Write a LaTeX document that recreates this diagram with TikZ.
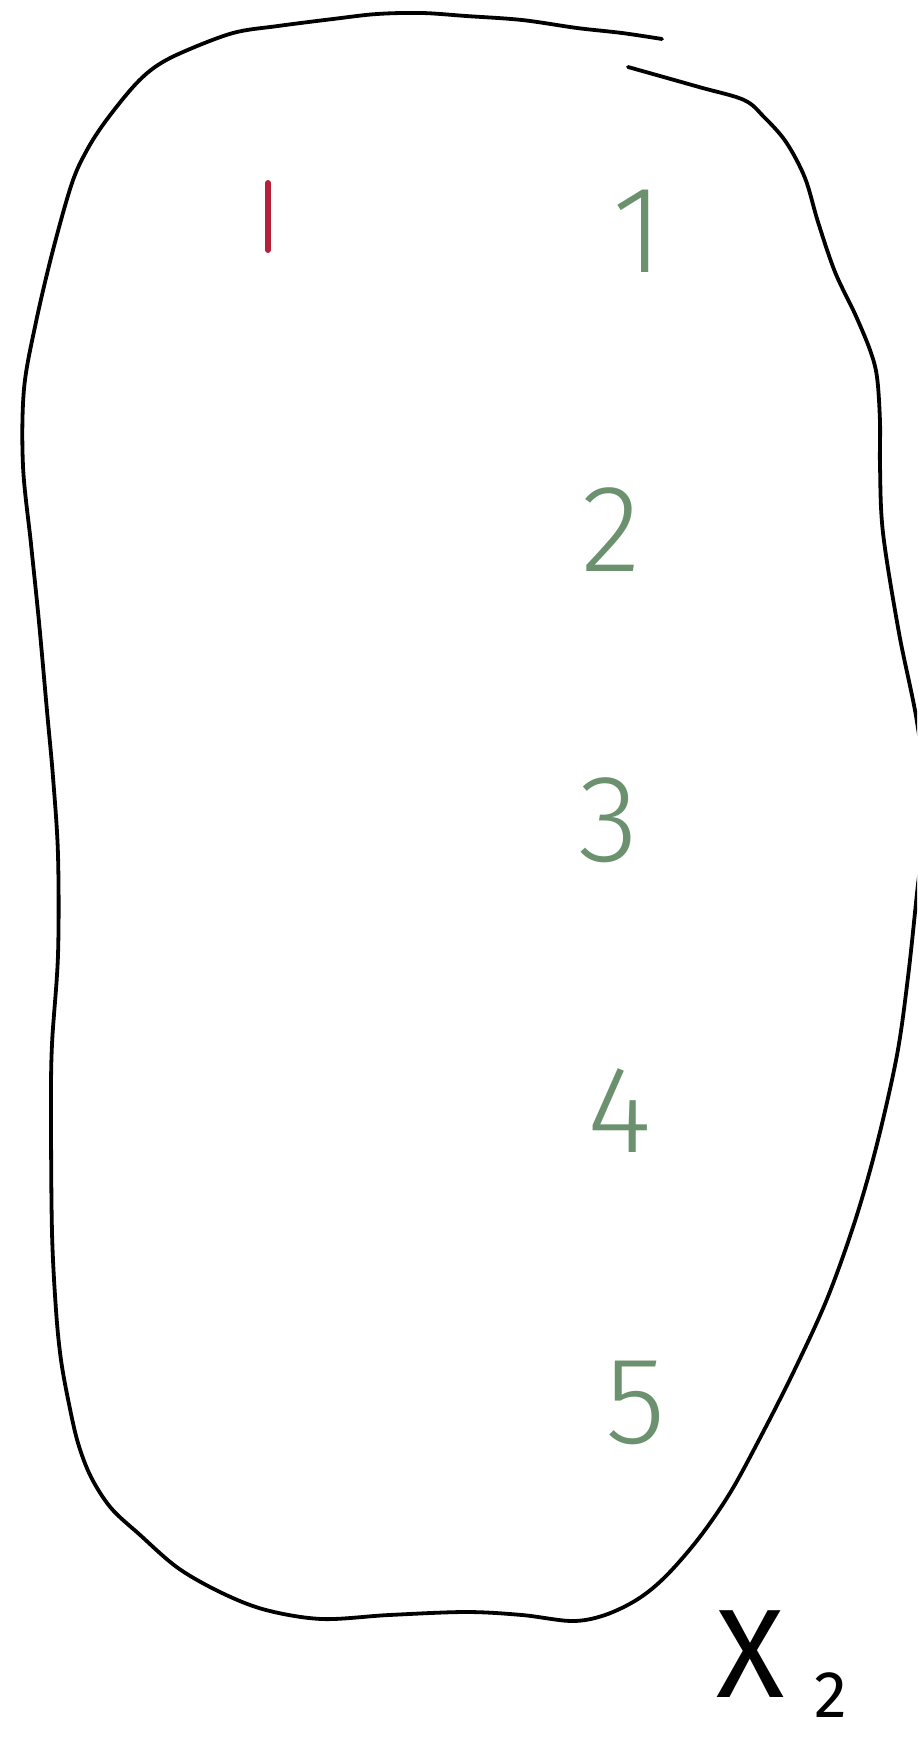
\documentclass[tikz,border=0pt]{standalone}
\usepackage{fontspec}
\newfontfamily\digitfont{Fira Sans}[UprightFont={* Light}]
\newfontfamily\labelfont{Fira Sans}
\definecolor{elemgreen}{RGB}{107,145,110}
\definecolor{elemred}{RGB}{181,33,58}
\begin{document}
\begin{tikzpicture}[x=0.5pt,y=-0.5pt,
  outline/.style={draw=black,line width=1.9pt,line cap=round,line join=round},
  elem/.style={text=elemgreen,inner sep=0pt,font=\digitfont\fontsize{62}{62}\selectfont},
  redmark/.style={draw=elemred,line width=3pt,line cap=round},
  setlabel/.style={inner sep=0pt,anchor=base west,font=\labelfont}]
\useasboundingbox (0,0) rectangle (917,1740);
\clip (0,0) rectangle (917,1740);
% blob outline (open at top)
\draw[outline] plot[smooth,tension=0.55] coordinates {
 (628,67) (699,87) (744,100) (764,117) (786,142) (805,178) (818,222) (835,272)
 (855,314) (870,350) (877,377) (880,422) (880,466) (883,533) (899,633) (917,722)
 (926,805) (917,893) (908,977) (897,1055) (877,1144) (855,1221) (827,1299)
 (794,1371) (760,1438) (730,1493) (699,1538) (666,1576) (638,1599) (605,1615)
 (572,1621) (522,1615) (466,1612) (389,1615) (322,1619) (266,1610) (222,1593)
 (178,1568) (139,1534) (111,1508) (91,1477) (78,1443) (69,1404) (61,1360)
 (56,1310) (52,1232) (51,1110) (52,1044) (58,955) (58,855) (53,777) (47,711)
 (39,622) (31,544) (23,466) (24,389) (36,322) (53,250) (72,183) (87,150)
 (105,122) (133,87) (155,67) (183,52) (233,33) (278,26) (333,19) (377,14)
 (422,13) (466,16) (522,20) (577,28) (622,33) (662,39)};
% red mark
\coordinate (redtop) at (268,183);
\coordinate (redbot) at (268,250);
\draw[redmark] (redtop) -- (redbot);
% elements
\node[elem] (e1) at (638,231) {1};
\node[elem] (e2) at (611,530) {2};
\node[elem] (e3) at (609,820) {3};
\node[elem] (e4) at (620,1111) {4};
\node[elem] (e5) at (636,1403) {5};
% set label
\node[setlabel] (xlabel) at (716,1697) {\fontsize{63}{63}\selectfont X\hspace{15pt}\raisebox{-10pt}{\fontsize{33}{33}\selectfont 2}};
\end{tikzpicture}
\end{document}
